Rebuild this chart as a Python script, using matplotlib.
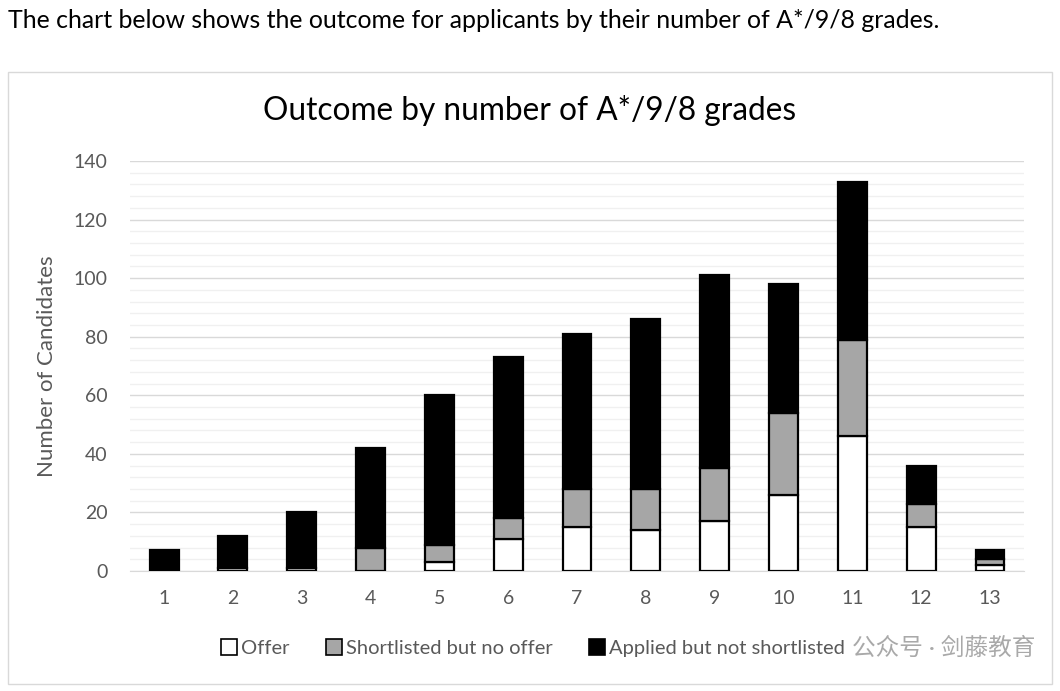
import numpy as np
import matplotlib
matplotlib.use("Agg")
import matplotlib.pyplot as plt
from matplotlib.patches import Patch, Rectangle
from matplotlib.ticker import MultipleLocator

# number of A*/9/8 grades
grades = [str(g) for g in range(1, 14)]
offer = [0, 1, 1, 0, 3, 11, 15, 14, 17, 26, 46, 15, 2]
shortlisted = [0, 0, 0, 8, 6, 7, 13, 14, 18, 28, 33, 8, 2]
not_shortlisted = [7, 11, 19, 34, 51, 55, 53, 58, 66, 44, 54, 13, 3]

series_names = ["Offer", "Shortlisted but no offer", "Applied but not shortlisted"]
series_colors = ["#ffffff", "#a6a6a6", "#000000"]

plt.rcParams['font.family'] = ['Lato', 'Noto Sans CJK SC', 'DejaVu Sans']

fig = plt.figure(figsize=(10.6, 6.91), dpi=100)

# intro sentence above the chart
fig.text(8 / 1060, 1 - 20 / 691, "The chart below shows the outcome for applicants by their number of A*/9/8 grades.",
         fontsize=17.9, color="#000000", va="center", ha="left")

# chart frame
fig.patches.append(Rectangle((8 / 1060, 1 - 684 / 691), 1044 / 1060, 612 / 691,
                             transform=fig.transFigure, fill=False,
                             edgecolor="#d9d9d9", linewidth=1))

fig.text(530 / 1060, 1 - 110 / 691, "Outcome by number of A*/9/8 grades",
         fontsize=22.8, color="#000000", ha="center", va="center")

ax = fig.add_axes([0.1223, 0.1737, 0.8441, 0.5933])

x = np.arange(1, len(grades) + 1)
bottoms = np.zeros(len(grades))
for vals, name, col in zip([offer, shortlisted, not_shortlisted], series_names, series_colors):
    ax.bar(x, vals, width=0.42, bottom=bottoms, color=col, edgecolor="#000000",
           linewidth=1.6, label=name, zorder=3)
    bottoms += np.array(vals)

ax.set_xlim(0.5, 13.5)
ax.set_ylim(0, 140)
ax.set_xticks(x)
ax.set_xticklabels(grades)
ax.yaxis.set_major_locator(MultipleLocator(20))
ax.yaxis.set_minor_locator(MultipleLocator(4))
ax.grid(axis="y", which="major", color="#d9d9d9", linewidth=1, zorder=0)
ax.grid(axis="y", which="minor", color="#f0f0f0", linewidth=1, zorder=0)
ax.set_axisbelow(True)

for s in ["top", "right", "left"]:
    ax.spines[s].set_visible(False)
ax.spines["bottom"].set_color("#d9d9d9")
ax.tick_params(axis="both", which="both", length=0, colors="#595959", labelsize=14)
ax.tick_params(axis="x", pad=14)
ax.tick_params(axis="y", pad=16)
ax.set_ylabel("Number of Candidates", fontsize=16, color="#595959", labelpad=12)

handles = [Patch(facecolor=c, edgecolor="#000000", linewidth=1.2) for c in series_colors]
fig.legend(handles, series_names, loc="center", bbox_to_anchor=(533 / 1060, 1 - 648 / 691),
           ncol=3, frameon=False, fontsize=14.5, handlelength=0.8, handleheight=0.8,
           handletextpad=0.2, columnspacing=1.8, labelcolor="#595959")

# watermark
fig.text(852 / 1060, 1 - 648 / 691, "公众号 · 剑藤教育", fontsize=17, color="#9a9a9a",
         ha="left", va="center", alpha=0.85)

fig.savefig("out.png", dpi=100)
